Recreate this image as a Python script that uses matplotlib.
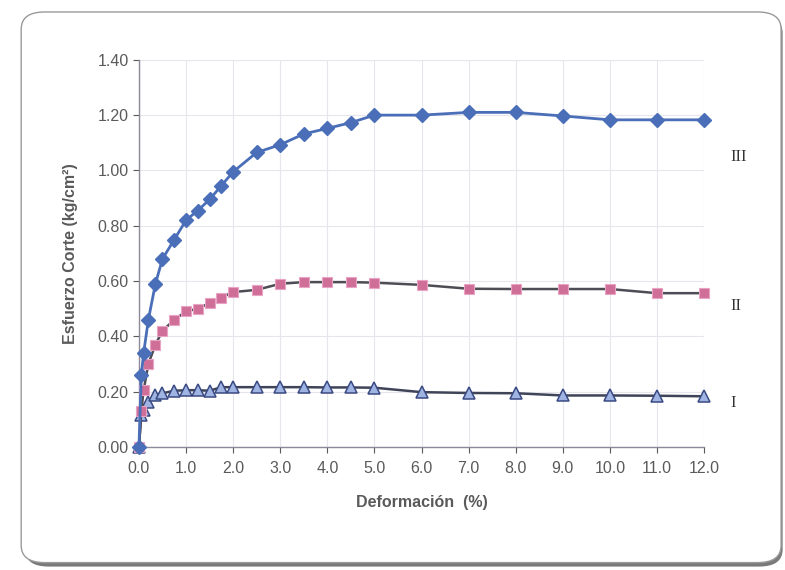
import numpy as np
import matplotlib.pyplot as plt
from matplotlib.patches import FancyBboxPatch

# Deformación (%)
deformacion = [0, 0.05, 0.1, 0.2, 0.35, 0.5, 0.75, 1.0, 1.25, 1.5, 1.75, 2.0, 2.5,
               3.0, 3.5, 4.0, 4.5, 5.0, 6.0, 7.0, 8.0, 9.0, 10.0, 11.0, 12.0]

# Esfuerzo corte (kg/cm2) por ensayo
serie_III = [0.0, 0.26, 0.34, 0.46, 0.59, 0.68, 0.75, 0.82, 0.855, 0.895, 0.945, 0.995, 1.065,
             1.093, 1.132, 1.152, 1.173, 1.20, 1.20, 1.21, 1.21, 1.197, 1.183, 1.183, 1.183]
serie_II = [0.0, 0.13, 0.205, 0.30, 0.37, 0.42, 0.46, 0.49, 0.50, 0.52, 0.54, 0.56, 0.568,
            0.59, 0.596, 0.596, 0.596, 0.594, 0.586, 0.572, 0.571, 0.571, 0.571, 0.556, 0.556]
serie_I = [0.0, 0.116, 0.134, 0.164, 0.186, 0.194, 0.203, 0.205, 0.205, 0.203, 0.216, 0.216, 0.216,
           0.216, 0.216, 0.215, 0.215, 0.214, 0.198, 0.195, 0.194, 0.186, 0.186, 0.185, 0.183]

etiquetas = ["III", "II", "I"]
pos_etiquetas = [1.05, 0.51, 0.16]

xticks = np.arange(0, 13, 1)
yticks = np.arange(0, 1.41, 0.2)

plt.rcParams['font.family'] = ['Liberation Sans', 'DejaVu Sans']
gris = "#5a5a5a"

fig = plt.figure(figsize=(7.85, 5.70), dpi=100)

# marco redondeado con sombra (en un eje de fondo)
fondo = fig.add_axes([0, 0, 1, 1], zorder=-1)
fondo.axis("off")
fondo.set_xlim(0, 1)
fondo.set_ylim(0, 1)
fondo.add_patch(FancyBboxPatch((0.032, 0.006), 0.965, 0.966, boxstyle="round,pad=0,rounding_size=0.03",
                               facecolor="#7a7a7a", edgecolor="none"))
fondo.add_patch(FancyBboxPatch((0.027, 0.013), 0.968, 0.966, boxstyle="round,pad=0,rounding_size=0.03",
                               facecolor="white", edgecolor="#9a9a9a", linewidth=1.0))

ax = fig.add_axes([0.177, 0.216, 0.720, 0.679], zorder=1)
ax.set_facecolor("none")

ax.plot(deformacion, serie_III, color="#4a6fb8", linewidth=2, marker="D", markersize=7,
        markerfacecolor="#4a6fb8", markeredgecolor="#4a6fb8", zorder=5, clip_on=False)
ax.plot(deformacion, serie_II, color="#4d4d55", linewidth=1.8, marker="s", markersize=7.5,
        markerfacecolor="#cf6f98", markeredgecolor="#e9a3c4", markeredgewidth=0.8, zorder=4, clip_on=False)
ax.plot(deformacion, serie_I, color="#3f4458", linewidth=1.8, marker="^", markersize=8.5,
        markerfacecolor="#9fb4e2", markeredgecolor="#3a4a82", markeredgewidth=1.1, zorder=3, clip_on=False)

for txt, yv in zip(etiquetas, pos_etiquetas):
    ax.text(12.55, yv, txt, fontsize=12, family=['Liberation Serif', 'DejaVu Serif'],
            color="#333333", va="center", ha="left", clip_on=False)

ax.set_xlim(0, 12)
ax.set_ylim(0, 1.40)
ax.set_xticks(xticks)
ax.set_yticks(yticks)
ax.set_xticklabels([f"{v:.1f}" for v in xticks])
ax.set_yticklabels([f"{v:.2f}" for v in yticks])
ax.tick_params(axis="both", colors=gris, labelsize=11.5, length=4, width=0.8)
ax.tick_params(axis="x", pad=6)
ax.grid(True, color="#e6e6ec", linewidth=0.8)
ax.set_axisbelow(True)
for s in ["top", "right"]:
    ax.spines[s].set_visible(False)
for s in ["left", "bottom"]:
    ax.spines[s].set_color("#8a8a9a")
    ax.spines[s].set_linewidth(1.0)

ax.set_xlabel("Deformación  (%)", fontsize=11.5, fontweight="bold", color=gris, labelpad=14)
ax.set_ylabel("Esfuerzo Corte (kg/cm²)", fontsize=11.5, fontweight="bold", color=gris, labelpad=14)

fig.savefig("out.png", dpi=100)
